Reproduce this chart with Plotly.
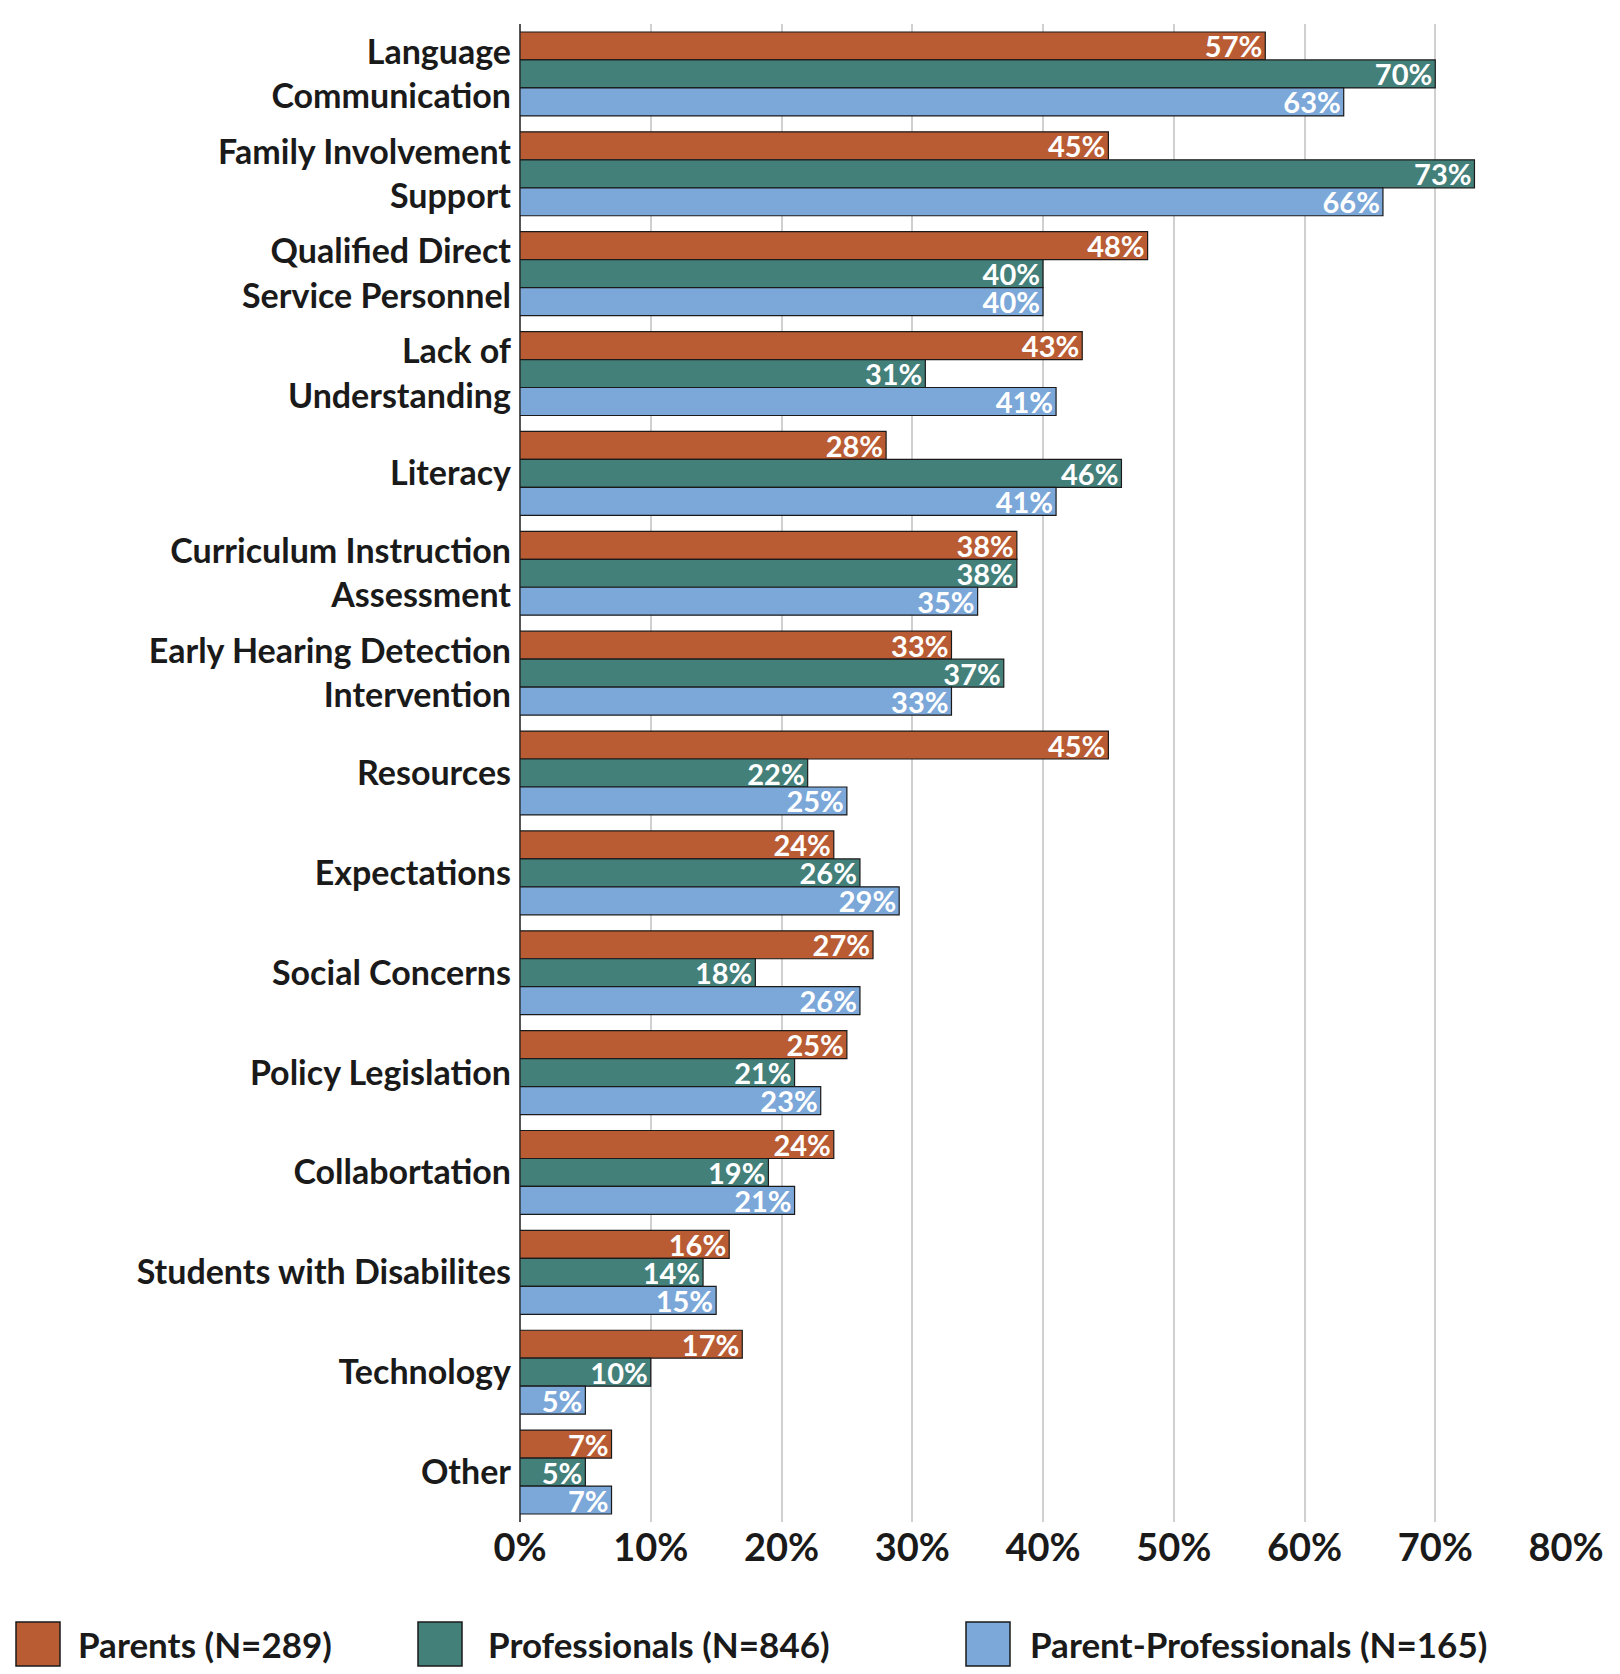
import plotly.graph_objects as go

categories = ["Language<br>Communication", "Family Involvement<br>Support", "Qualified Direct<br>Service Personnel",
              "Lack of<br>Understanding", "Literacy", "Curriculum Instruction<br>Assessment",
              "Early Hearing Detection<br>Intervention", "Resources", "Expectations", "Social Concerns",
              "Policy Legislation", "Collabortation", "Students with Disabilites", "Technology", "Other"]
parents = [57, 45, 48, 43, 28, 38, 33, 45, 24, 27, 25, 24, 16, 17, 7]
professionals = [70, 73, 40, 31, 46, 38, 37, 22, 26, 18, 21, 19, 14, 10, 5]
parent_prof = [63, 66, 40, 41, 41, 35, 33, 25, 29, 26, 23, 21, 15, 5, 7]
series = [("Parents (N=289)", parents, "#B95C34"),
          ("Professionals (N=846)", professionals, "#44807A"),
          ("Parent-Professionals (N=165)", parent_prof, "#7BA7D9")]

W, H = 1620, 1674
L, R, T, B = 512, 62, 16, 160
pw, ph = W - L - R, H - T - B

fig = go.Figure()
for name, vals, col in series:
    fig.add_trace(go.Bar(
        y=categories, x=vals, name=name, orientation="h",
        marker=dict(color=col, line=dict(color="#1a1a1a", width=1.2)),
        text=[f"{v}%" for v in vals], textposition="inside", insidetextanchor="end",
        constraintext="none",
        textfont=dict(color="white", size=29, family="Lato", weight="bold"),
        showlegend=False,
    ))

# custom legend
leg_sq = [8, 410, 958]
leg_tx = [68, 478, 1020]
sq = 44
yc = 1636
for (name, _, col), sx, tx in zip(series, leg_sq, leg_tx):
    x0 = (sx - L) / pw
    x1 = (sx + sq - L) / pw
    y0 = (H - B - (yc + sq / 2)) / ph
    y1 = (H - B - (yc - sq / 2)) / ph
    fig.add_shape(type="rect", xref="paper", yref="paper", x0=x0, x1=x1, y0=y0, y1=y1,
                  fillcolor=col, line=dict(color="#1a1a1a", width=1.5))
    fig.add_annotation(xref="paper", yref="paper", x=(tx - L) / pw, y=(H - B - yc) / ph,
                       text=name, showarrow=False, xanchor="left", yanchor="middle",
                       font=dict(size=35, family="Lato", weight="bold", color="#1a1a1a"))

fig.update_layout(
    width=W, height=H, barmode="group", bargap=0.16, bargroupgap=0,
    paper_bgcolor="white", plot_bgcolor="white",
    font=dict(family="Lato", color="#1a1a1a", weight="bold"),
    margin=dict(l=L, r=R, t=T, b=B),
    showlegend=False,
    xaxis=dict(range=[0, 80], dtick=10, ticksuffix="%", showgrid=True,
               gridcolor="#d0d0d0", gridwidth=2, zeroline=True, zerolinecolor="#555",
               zerolinewidth=1.5, tickfont=dict(size=38, weight="bold")),
    yaxis=dict(autorange="reversed", tickfont=dict(size=34, weight="bold"),
               ticks="", ticklabelstandoff=8),
)
fig.write_html("out.html")
